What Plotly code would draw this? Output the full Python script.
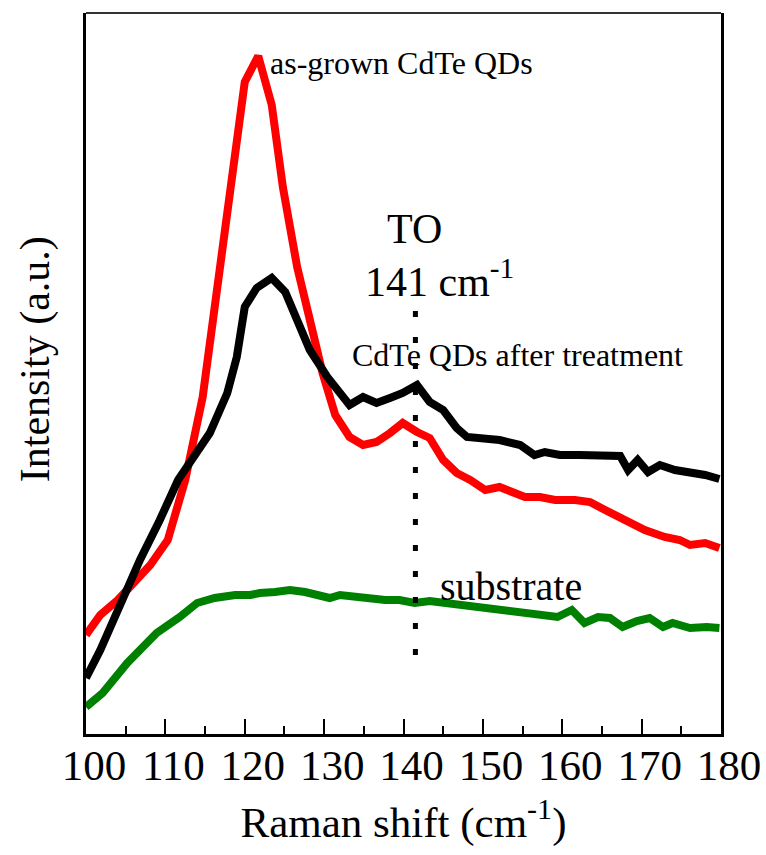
import plotly.graph_objects as go

# Raman shift (cm^-1) and intensity (a.u.)
x_asgrown = [100.0, 101.8, 104.0, 106.2, 108.1, 110.3, 112.5, 114.7, 116.6, 118.4, 120.0, 121.7,
             123.4, 124.8, 126.6, 128.6, 129.8, 131.4, 133.2, 134.9, 136.6, 138.3, 139.9, 141.7,
             143.3, 145.0, 146.7, 148.4, 150.3, 152.1, 154.0, 155.3, 157.2, 159.1, 161.6, 163.5,
             165.4, 167.9, 170.4, 172.9, 174.8, 176.1, 178.0, 179.8]
y_asgrown = [99, 119, 134, 154, 169, 194, 254, 337, 454, 561, 652, 678,
             629, 547, 467, 401, 361, 319, 297, 289, 292, 301, 311, 302,
             296, 274, 261, 254, 244, 247, 241, 237, 237, 234, 234, 232,
             224, 214, 204, 197, 194, 189, 191, 186]

x_treated = [100.0, 101.8, 104.3, 106.8, 109.3, 111.6, 115.6, 117.8, 119.0, 120.0, 121.5, 123.4,
             125.1, 126.6, 128.2, 130.4, 132.0, 133.2, 134.9, 136.6, 138.3, 139.9, 141.7, 143.3,
             145.0, 146.7, 148.0, 149.6, 152.1, 154.7, 156.5, 157.8, 159.7, 162.2, 164.7, 166.0,
             167.3, 168.3, 169.5, 170.8, 172.3, 174.2, 176.1, 178.0, 179.8]
y_treated = [56, 84, 129, 174, 214, 254, 301, 341, 377, 427, 446, 456,
             442, 414, 384, 357, 341, 329, 337, 331, 336, 341, 349, 332,
             324, 306, 297, 296, 294, 289, 279, 282, 279, 279, 278, 279,
             278, 264, 274, 262, 269, 264, 262, 259, 255]

x_substrate = [100.0, 102.1, 105.2, 106.8, 108.9, 111.8, 114.0, 116.2, 118.8, 120.7, 121.9, 123.8,
               125.7, 127.6, 129.5, 130.7, 132.0, 133.9, 135.8, 137.7, 139.5, 141.4, 143.3, 145.2,
               147.1, 149.6, 152.1, 156.3, 159.4, 161.2, 162.8, 164.5, 166.0, 167.6, 169.4, 171.0,
               172.7, 173.9, 176.1, 178.2, 179.8]
y_substrate = [27, 41, 71, 84, 101, 117, 131, 136, 139, 139, 141, 142,
               144, 142, 138, 136, 139, 137, 134, 134, 134, 131, 133, 131,
               128, 127, 124, 119, 117, 124, 111, 117, 116, 107, 113, 116,
               107, 111, 106, 107, 106]

to_mode_x = 141.5
to_line_y = [79, 434]

x_range = [100, 180]
y_range = [0, 721]
x_tickvals = [100, 110, 120, 130, 140, 150, 160, 170, 180]

FONT = "Liberation Serif, Times New Roman, serif"

fig = go.Figure()
fig.add_trace(go.Scatter(x=x_substrate, y=y_substrate, mode="lines",
                         line=dict(color="#008000", width=8), name="substrate"))
fig.add_trace(go.Scatter(x=x_asgrown, y=y_asgrown, mode="lines",
                         line=dict(color="#ff0000", width=8), name="as-grown CdTe QDs"))
fig.add_trace(go.Scatter(x=x_treated, y=y_treated, mode="lines",
                         line=dict(color="#000000", width=8), name="CdTe QDs after treatment"))

# dotted marker line for the TO mode
fig.add_shape(type="line", x0=to_mode_x, x1=to_mode_x, y0=to_line_y[0], y1=to_line_y[1],
              xref="x", yref="y", line=dict(color="black", width=5, dash="6px,20px"))
# top frame line
fig.add_shape(type="line", x0=0, x1=1, y0=1, y1=1, xref="paper", yref="paper",
              line=dict(color="#333333", width=2))

ann = [
    dict(x=122.9, y=671, text="as-grown CdTe QDs", size=32, xanchor="left"),
    dict(x=141.4, y=505, text="TO", size=42, xanchor="center"),
    dict(x=144.5, y=456, text="141 cm<sup>-1</sup>", size=42, xanchor="center"),
    dict(x=133.2, y=379, text="CdTe QDs after treatment", size=32, xanchor="left"),
    dict(x=144.3, y=148, text="substrate", size=40, xanchor="left"),
]
for a in ann:
    fig.add_annotation(x=a["x"], y=a["y"], text=a["text"], xref="x", yref="y",
                       xanchor=a["xanchor"], yanchor="middle", showarrow=False,
                       font=dict(family=FONT, size=a["size"], color="black"))

# y-axis title
fig.add_annotation(x=-0.08, y=0.52, xref="paper", yref="paper", text="Intensity (a.u.)",
                   textangle=-90, showarrow=False, xanchor="center", yanchor="middle",
                   font=dict(family=FONT, size=42, color="black"))

fig.update_layout(
    width=766, height=855,
    margin=dict(l=86, r=45, t=13, b=121, autoexpand=False),
    paper_bgcolor="white", plot_bgcolor="white",
    showlegend=False,
    font=dict(family=FONT, color="black"),
)
fig.update_xaxes(
    range=x_range, tickvals=x_tickvals, ticks="inside", ticklen=15, tickwidth=2,
    tickcolor="black", showline=True, linecolor="black", linewidth=3, mirror=False,
    showgrid=False, zeroline=False, ticklabelshift=8, ticklabelstandoff=-9,
    automargin=False,
    tickfont=dict(family=FONT, size=43, color="black"),
    minor=dict(dtick=5, tick0=100, ticks="inside", ticklen=8, tickwidth=2, tickcolor="black"),
    title=dict(text="Raman shift (cm<sup>-1</sup>)", font=dict(family=FONT, size=43, color="black"),
               standoff=20),
)
fig.update_yaxes(
    range=y_range, showticklabels=False, ticks="", showline=True, linecolor="black",
    linewidth=3, mirror=True, showgrid=False, zeroline=False, automargin=False,
)

fig.write_html("out.html")
